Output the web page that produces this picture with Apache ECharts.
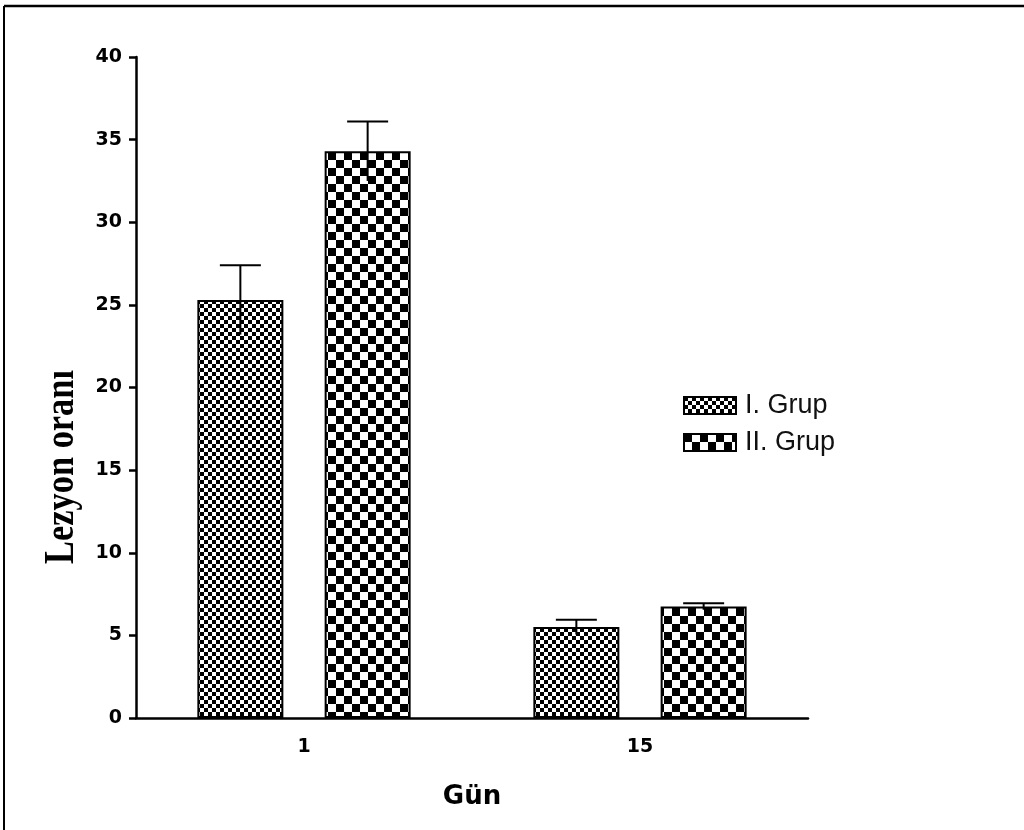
<!DOCTYPE html>
<html>
<head>
<meta charset="utf-8">
<script src="https://cdn.jsdelivr.net/npm/echarts@6/dist/echarts.min.js"></script>
<style>
html,body{margin:0;padding:0;background:#fff;}
#main{width:1024px;height:830px;}
</style>
</head>
<body>
<div id="main"></div>
<script>
const categories = ['1', '15'];
const seriesNames = ['I. Grup', 'II. Grup'];
const groupI = [25.3, 5.5];
const groupIErr = [2.1, 0.45];
const groupII = [34.3, 6.75];
const groupIIErr = [1.8, 0.2];
const yTicks = [0, 5, 10, 15, 20, 25, 30, 35, 40];

function checker(cell) {
  const c = document.createElement('canvas');
  c.width = cell * 2; c.height = cell * 2;
  const ctx = c.getContext('2d');
  ctx.fillStyle = '#fff';
  ctx.fillRect(0, 0, cell * 2, cell * 2);
  ctx.fillStyle = '#000';
  ctx.fillRect(0, 0, cell, cell);
  ctx.fillRect(cell, cell, cell, cell);
  return c;
}
const fine = checker(4);
const coarse = checker(8);

const chart = echarts.init(document.getElementById('main'), null, {renderer: 'canvas'});

const barWidthFrac = 86 / 336;
const barGapFrac = 0.48;
const offsetFrac = barWidthFrac * (1 + barGapFrac) / 2;
const capFrac = 0.061;

function errRender(sign) {
  return function (params, api) {
    const cat = api.value(0), mean = api.value(1), err = api.value(2);
    const bw = api.size([1, 0])[0];
    const c = api.coord([cat, mean]);
    const x = c[0] + sign * offsetFrac * bw;
    const yTop = api.coord([cat, mean + err])[1];
    const yBot = api.coord([cat, mean - err])[1];
    const half = capFrac * bw;
    const st = {stroke: '#000', lineWidth: 2};
    return {
      type: 'group',
      children: [
        {type: 'line', shape: {x1: x, y1: yTop, x2: x, y2: yBot}, style: st},
        {type: 'line', shape: {x1: x - half, y1: yTop, x2: x + half, y2: yTop}, style: st}
      ]
    };
  };
}

const option = {
  animation: false,
  backgroundColor: '#fff',
  grid: {left: 136, top: 57, right: 216, bottom: 112, containLabel: false},
  legend: {
    data: seriesNames,
    orient: 'vertical',
    left: 683,
    top: 392,
    padding: 0,
    itemWidth: 52,
    itemHeight: 17,
    itemGap: 10,
    icon: 'rect',
    textStyle: {fontFamily: 'Liberation Sans', fontSize: 27, color: '#111', padding: [0, 0, 0, 4]}
  },
  xAxis: {
    type: 'category',
    data: categories,
    name: 'Gün',
    nameLocation: 'middle',
    nameGap: 66,
    nameTextStyle: {fontFamily: 'DejaVu Sans', fontWeight: 'bold', fontSize: 26, color: '#000'},
    axisLine: {lineStyle: {color: '#000', width: 2.5}},
    axisTick: {alignWithLabel: true, length: 8, lineStyle: {color: '#000', width: 2.5}},
    axisLabel: {margin: 20, fontFamily: 'DejaVu Sans', fontWeight: 'bold', fontSize: 19, color: '#000'},
    splitLine: {show: false}
  },
  yAxis: {
    type: 'value',
    min: yTicks[0],
    max: yTicks[yTicks.length - 1],
    interval: 5,
    axisLine: {show: true, lineStyle: {color: '#000', width: 2.5}},
    axisTick: {show: true, length: 7, lineStyle: {color: '#000', width: 2.5}},
    axisLabel: {margin: 14, fontFamily: 'DejaVu Sans', fontWeight: 'bold', fontSize: 19, color: '#000'},
    splitLine: {show: false}
  },
  graphic: [
    {type: 'line', shape: {x1: 4, y1: 6, x2: 1024, y2: 6}, style: {stroke: '#000', lineWidth: 2.5}, z: 100},
    {type: 'line', shape: {x1: 4, y1: 6, x2: 4, y2: 830}, style: {stroke: '#000', lineWidth: 2}, z: 100},
    {type: 'text', x: 62, y: 467, rotation: Math.PI / 2, scaleX: 0.8,
     style: {text: 'Lezyon oranı', font: 'bold 43px "Liberation Serif"', fill: '#000', align: 'center', verticalAlign: 'middle'}}
  ],
  series: [
    {name: seriesNames[0], type: 'bar', data: groupI, barWidth: (barWidthFrac * 100) + '%', barGap: (barGapFrac * 100) + '%',
     itemStyle: {color: {image: fine, repeat: 'repeat'}, borderColor: '#000', borderWidth: 2}},
    {name: seriesNames[1], type: 'bar', data: groupII, barWidth: (barWidthFrac * 100) + '%', barGap: (barGapFrac * 100) + '%',
     itemStyle: {color: {image: coarse, repeat: 'repeat'}, borderColor: '#000', borderWidth: 2}},
    {type: 'custom', renderItem: errRender(-1), encode: {x: 0, y: 1}, z: 10,
     data: categories.map((c, i) => [i, groupI[i], groupIErr[i]])},
    {type: 'custom', renderItem: errRender(1), encode: {x: 0, y: 1}, z: 10,
     data: categories.map((c, i) => [i, groupII[i], groupIIErr[i]])}
  ]
};
chart.setOption(option);
</script>
</body>
</html>
